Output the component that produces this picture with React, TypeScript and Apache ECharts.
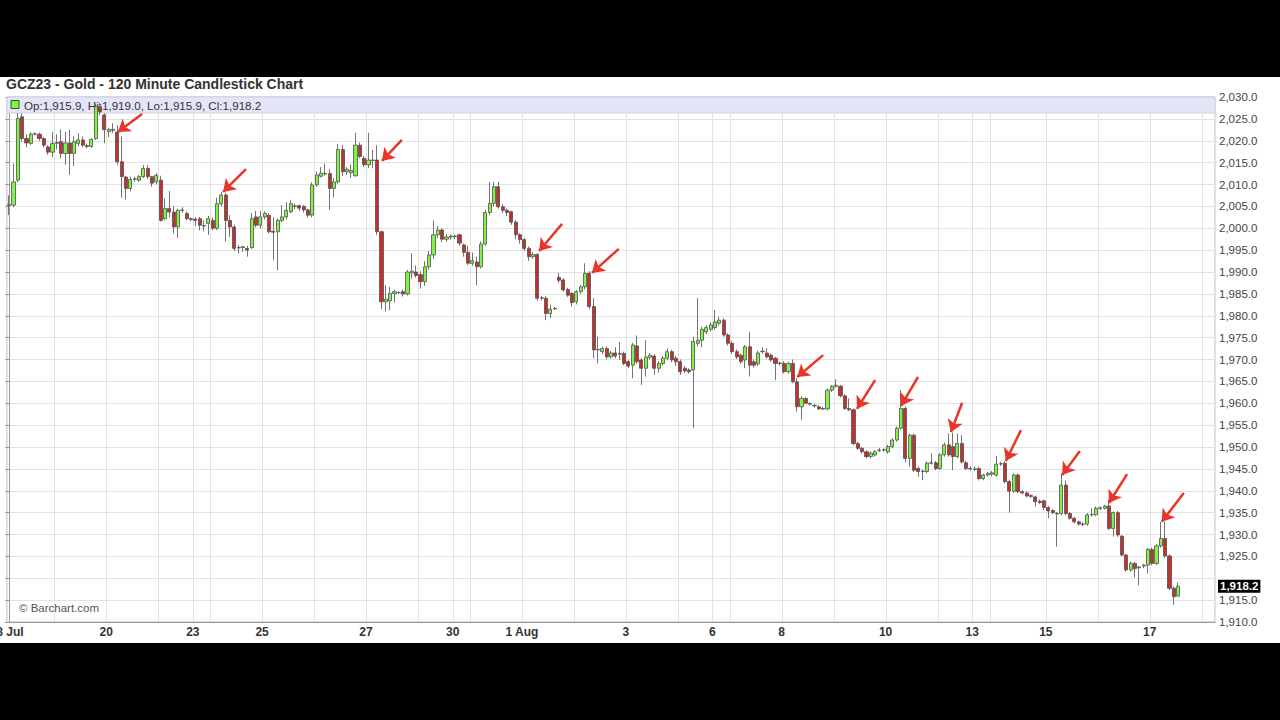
import React, { useEffect, useRef } from 'react';
import * as echarts from 'echarts';

// Number of 120-minute slots on the category axis (271 candles + empty room on the right)
const SLOT_COUNT = 279;

// Candles as [open, high, low, close]
const week18to21Jul = [
  [2005.2, 2007.5, 2003.0, 2005.4], [2005.3, 2014.8, 2004.8, 2010.6], [2011.0, 2026.3, 2010.5, 2025.1],
  [2025.5, 2026.3, 2019.8, 2020.5], [2020.5, 2021.5, 2018.5, 2019.5], [2019.4, 2022.0, 2019.0, 2021.5],
  [2021.5, 2021.9, 2021.2, 2021.6], [2021.5, 2021.9, 2020.0, 2020.5], [2020.5, 2020.8, 2018.5, 2019.0],
  [2018.6, 2019.0, 2016.8, 2017.4], [2017.4, 2022.0, 2016.3, 2019.4], [2019.4, 2021.5, 2018.0, 2019.6],
  [2019.8, 2022.6, 2016.0, 2017.1], [2017.1, 2022.0, 2014.5, 2019.5], [2019.5, 2022.5, 2012.2, 2017.1],
  [2017.1, 2021.0, 2014.2, 2019.8], [2019.4, 2021.7, 2018.8, 2020.2], [2020.2, 2021.0, 2018.5, 2019.0],
  [2018.9, 2019.4, 2018.3, 2018.7], [2018.7, 2020.6, 2018.4, 2020.3], [2020.5, 2028.5, 2020.2, 2027.8],
  [2027.8, 2028.6, 2025.8, 2026.6], [2025.9, 2026.3, 2019.4, 2022.5], [2022.1, 2023.0, 2020.8, 2022.6],
  [2022.6, 2024.0, 2021.8, 2022.4], [2022.0, 2023.5, 2014.5, 2015.2], [2015.2, 2021.0, 2007.0, 2011.8],
  [2011.7, 2012.0, 2006.5, 2009.1], [2009.1, 2011.8, 2008.5, 2011.2], [2011.2, 2011.8, 2010.6, 2011.3],
  [2011.0, 2012.2, 2010.6, 2011.8], [2011.8, 2014.5, 2011.5, 2013.7], [2013.7, 2014.5, 2011.3, 2011.8],
  [2011.8, 2012.0, 2009.5, 2010.3], [2010.6, 2012.6, 2010.0, 2012.1], [2011.0, 2012.0, 2001.5, 2001.8],
  [2002.2, 2006.8, 2001.8, 2004.5], [2004.5, 2008.5, 2002.5, 2003.7], [2003.7, 2005.0, 1998.8, 2000.3],
  [2000.3, 2004.5, 1997.8, 2004.1], [2004.1, 2004.8, 2003.5, 2004.2], [2003.4, 2003.8, 2001.8, 2002.2],
  [2002.2, 2002.5, 2001.6, 2002.0],
];

const week23to28Jul = [
  [2002.1, 2002.5, 2000.5, 2001.8], [2002.2, 2002.6, 1999.5, 2000.7], [2000.6, 2001.8, 1999.3, 2000.5],
  [2001.1, 2002.8, 1998.5, 2002.2], [2001.8, 2002.4, 1999.6, 2000.0], [2000.0, 2007.0, 1999.6, 2005.6],
  [2005.6, 2008.3, 2005.0, 2007.6], [2007.6, 2008.1, 1997.0, 2001.8], [2001.8, 2003.0, 1998.0, 2000.3],
  [2000.3, 2000.8, 1994.8, 1995.4], [1995.6, 1996.2, 1994.2, 1995.5], [1995.6, 1996.0, 1994.6, 1995.8],
  [1995.4, 1996.0, 1993.5, 1995.0], [1995.6, 2003.5, 1995.2, 2002.2], [2002.6, 2004.0, 2000.2, 2000.7],
  [2000.7, 2004.0, 2000.0, 2002.6], [2002.6, 2003.9, 2002.0, 2003.4], [2003.0, 2003.5, 1998.8, 1999.2],
  [1999.3, 2002.5, 1992.7, 1999.1], [1999.2, 2002.2, 1990.4, 2001.8], [2001.8, 2005.3, 2001.4, 2002.6],
  [2002.6, 2006.0, 2002.0, 2004.1], [2003.8, 2006.5, 2003.4, 2005.6], [2005.0, 2005.6, 2004.4, 2005.1],
  [2005.2, 2005.4, 2004.0, 2004.6], [2005.0, 2005.3, 2003.6, 2004.2], [2004.2, 2004.5, 2002.4, 2003.0],
  [2003.0, 2010.5, 2002.5, 2009.9], [2009.9, 2013.0, 2009.5, 2012.2], [2011.9, 2014.0, 2011.6, 2012.6],
  [2012.5, 2014.8, 2012.0, 2012.4], [2012.5, 2013.5, 2004.2, 2009.1], [2009.1, 2011.5, 2007.0, 2010.6],
  [2010.6, 2019.3, 2010.2, 2018.0], [2018.0, 2019.0, 2012.0, 2012.9], [2012.9, 2014.0, 2012.2, 2013.5],
  [2012.7, 2014.6, 2011.5, 2013.2], [2012.0, 2021.8, 2011.8, 2019.0], [2019.0, 2019.6, 2016.0, 2016.4],
  [2016.0, 2016.5, 2014.0, 2014.5], [2014.5, 2021.8, 2013.8, 2015.6], [2015.6, 2017.9, 2013.7, 2015.5],
  [2015.6, 2019.0, 1998.5, 1999.2], [1999.2, 1999.5, 1981.5, 1983.2], [1983.2, 1987.0, 1981.0, 1983.8],
  [1983.4, 1986.6, 1981.3, 1985.1], [1985.1, 1986.0, 1983.0, 1985.5], [1985.3, 1985.6, 1985.0, 1985.3],
  [1985.5, 1986.0, 1984.4, 1985.0], [1985.0, 1990.5, 1984.6, 1990.0], [1989.8, 1994.3, 1988.5, 1990.2],
  [1990.0, 1991.5, 1988.7, 1989.2], [1989.4, 1990.2, 1986.2, 1987.8], [1987.8, 1992.5, 1986.8, 1991.2],
  [1991.2, 1994.8, 1990.5, 1993.9], [1993.9, 2001.8, 1993.0, 1998.5], [1998.5, 2000.5, 1997.8, 1999.6],
  [1999.6, 2000.0, 1996.8, 1997.5], [1997.5, 1998.7, 1997.0, 1998.0], [1998.0, 1998.6, 1997.4, 1998.2],
];

const week30Julto4Aug = [
  [1998.2, 1998.5, 1997.5, 1998.1], [1998.5, 1998.8, 1996.0, 1996.6], [1996.2, 1996.5, 1993.5, 1994.5],
  [1994.5, 1996.0, 1991.6, 1992.0], [1992.0, 1994.4, 1991.4, 1992.6], [1992.3, 1993.5, 1987.0, 1991.2],
  [1991.2, 1997.0, 1990.8, 1996.4], [1996.4, 2004.2, 1996.0, 2003.6], [2003.6, 2010.6, 2003.0, 2005.7],
  [2005.7, 2010.6, 2005.0, 2009.5], [2009.5, 2010.6, 2004.5, 2004.9], [2004.9, 2005.5, 2003.5, 2004.1],
  [2004.1, 2004.5, 2002.8, 2003.6], [2003.8, 2004.0, 2000.8, 2001.4], [2001.4, 2001.9, 1997.5, 1998.5],
  [1998.5, 1998.9, 1996.5, 1997.4], [1997.4, 1997.8, 1994.8, 1995.4], [1995.4, 1995.8, 1992.5, 1993.5],
  [1993.5, 1994.5, 1993.0, 1994.0], [1994.0, 1994.3, 1983.5, 1984.0], [1984.0, 1984.5, 1983.5, 1984.1],
  [1984.0, 1984.5, 1979.0, 1980.5], [1980.5, 1982.5, 1979.5, 1981.5], [1981.6, 1982.0, 1981.3, 1981.7],
  [1988.8, 1989.8, 1987.5, 1988.1], [1988.2, 1988.6, 1985.5, 1985.9], [1986.0, 1986.4, 1984.3, 1984.7],
  [1985.1, 1985.4, 1982.1, 1983.0], [1983.2, 1985.9, 1982.6, 1985.5], [1985.5, 1987.0, 1985.0, 1986.6],
  [1986.6, 1992.0, 1986.0, 1989.7], [1989.7, 1990.2, 1981.5, 1982.1], [1982.1, 1984.0, 1970.3, 1972.2],
  [1972.2, 1975.2, 1969.1, 1972.3], [1971.8, 1973.0, 1971.2, 1972.5], [1972.5, 1973.0, 1970.0, 1970.6],
  [1970.6, 1972.0, 1970.2, 1971.5], [1971.5, 1972.8, 1970.3, 1970.8], [1971.2, 1974.0, 1969.9, 1971.4],
  [1971.4, 1971.8, 1968.7, 1969.1], [1969.5, 1969.9, 1968.0, 1968.5], [1968.7, 1973.8, 1965.7, 1973.3],
  [1973.1, 1975.5, 1969.0, 1969.5], [1969.9, 1970.3, 1964.2, 1968.0], [1968.0, 1974.4, 1966.1, 1970.6],
  [1970.5, 1971.5, 1970.0, 1971.0], [1970.8, 1971.2, 1966.5, 1968.0], [1968.0, 1969.6, 1967.0, 1969.1],
  [1969.1, 1970.8, 1968.6, 1970.3], [1970.3, 1972.5, 1969.8, 1971.8], [1971.8, 1972.2, 1969.4, 1969.9],
  [1970.3, 1970.8, 1968.5, 1969.5], [1969.5, 1970.0, 1966.5, 1967.2], [1968.0, 1968.5, 1966.9, 1967.4],
  [1967.6, 1968.0, 1966.8, 1967.2], [1967.6, 1975.2, 1954.3, 1974.1], [1973.7, 1984.0, 1973.0, 1974.4],
  [1974.4, 1977.5, 1972.8, 1976.9], [1976.3, 1977.8, 1975.8, 1977.3], [1976.9, 1978.5, 1976.4, 1977.9],
];

const week6to11Aug = [
  [1977.3, 1981.3, 1976.8, 1978.6], [1978.3, 1979.8, 1977.8, 1979.0], [1979.0, 1979.4, 1975.2, 1975.6],
  [1975.6, 1976.0, 1973.2, 1973.7], [1973.7, 1974.2, 1971.3, 1971.8], [1971.8, 1972.3, 1970.1, 1970.6],
  [1971.0, 1971.4, 1969.0, 1969.5], [1969.9, 1973.3, 1968.0, 1972.9], [1972.9, 1976.3, 1966.1, 1968.7],
  [1969.5, 1970.0, 1968.2, 1968.7], [1969.0, 1972.0, 1968.5, 1971.5], [1971.8, 1972.8, 1971.3, 1971.9],
  [1971.5, 1972.6, 1970.2, 1970.6], [1971.0, 1971.4, 1969.5, 1969.9], [1970.3, 1970.6, 1965.3, 1969.1],
  [1969.1, 1969.5, 1968.6, 1969.2], [1969.1, 1969.6, 1966.8, 1967.2], [1967.2, 1969.5, 1966.8, 1969.1],
  [1969.1, 1970.0, 1964.6, 1964.9], [1964.9, 1965.7, 1958.1, 1959.2], [1959.2, 1961.6, 1956.2, 1961.1],
  [1961.1, 1961.4, 1959.8, 1960.0], [1959.9, 1960.2, 1959.5, 1959.8], [1959.5, 1959.9, 1959.0, 1959.4],
  [1959.2, 1959.5, 1958.5, 1958.7], [1958.8, 1959.2, 1958.4, 1958.7], [1958.7, 1963.4, 1958.4, 1963.0],
  [1963.0, 1964.2, 1962.6, 1963.9], [1963.9, 1965.5, 1963.5, 1964.1], [1963.9, 1964.2, 1961.3, 1961.7],
  [1961.7, 1962.0, 1958.5, 1958.8], [1958.8, 1961.1, 1958.2, 1958.5], [1958.5, 1958.8, 1950.4, 1950.8],
  [1950.8, 1951.2, 1949.3, 1949.7], [1949.7, 1950.0, 1948.5, 1948.9], [1948.9, 1949.2, 1947.4, 1947.8],
  [1947.8, 1949.0, 1947.4, 1948.6], [1948.2, 1949.3, 1947.8, 1948.9], [1949.2, 1949.8, 1948.8, 1949.3],
  [1949.3, 1949.7, 1948.9, 1949.4], [1948.9, 1950.5, 1948.5, 1950.1], [1950.1, 1952.0, 1949.7, 1951.6],
  [1951.6, 1954.7, 1951.2, 1954.3], [1954.3, 1963.0, 1954.0, 1958.8], [1958.8, 1959.2, 1946.5, 1947.4],
  [1947.4, 1953.1, 1945.5, 1952.7], [1952.7, 1953.1, 1944.3, 1944.7], [1945.1, 1945.5, 1943.2, 1944.4],
  [1944.4, 1944.8, 1942.4, 1944.5], [1944.4, 1946.7, 1944.0, 1946.3], [1946.3, 1948.6, 1946.0, 1946.4],
  [1946.4, 1946.8, 1944.7, 1945.1], [1945.1, 1948.6, 1944.8, 1948.2], [1948.2, 1951.0, 1947.8, 1950.5],
  [1950.5, 1953.1, 1947.8, 1948.2], [1950.1, 1953.3, 1944.7, 1947.8], [1947.8, 1953.1, 1947.4, 1950.8],
  [1950.8, 1952.7, 1946.2, 1946.6], [1946.4, 1946.8, 1944.7, 1945.1], [1945.1, 1945.6, 1944.6, 1945.0],
];

const week13to17Aug = [
  [1945.0, 1945.5, 1944.5, 1944.9], [1945.1, 1945.5, 1942.4, 1942.8], [1942.8, 1943.9, 1942.4, 1943.6],
  [1943.6, 1944.3, 1943.2, 1944.0], [1943.8, 1944.5, 1943.3, 1944.1], [1943.6, 1948.0, 1943.2, 1946.1],
  [1946.1, 1946.6, 1945.7, 1946.2], [1946.3, 1946.8, 1941.7, 1942.1], [1942.1, 1942.5, 1935.0, 1939.9],
  [1939.9, 1944.0, 1939.5, 1943.6], [1943.6, 1944.0, 1939.4, 1939.8], [1939.8, 1940.1, 1939.2, 1939.5],
  [1939.5, 1939.8, 1938.5, 1938.8], [1938.9, 1939.2, 1938.4, 1938.7], [1938.6, 1938.9, 1936.4, 1937.5],
  [1937.6, 1938.0, 1937.0, 1937.3], [1937.7, 1938.0, 1935.6, 1936.2], [1936.2, 1936.5, 1933.7, 1935.4],
  [1935.5, 1935.8, 1934.7, 1935.0], [1934.8, 1935.2, 1927.2, 1934.7], [1934.8, 1944.0, 1934.4, 1941.3],
  [1941.3, 1942.3, 1934.4, 1934.8], [1934.8, 1935.2, 1933.4, 1933.7], [1933.7, 1934.0, 1932.5, 1932.9],
  [1932.9, 1933.2, 1932.0, 1932.4], [1932.4, 1932.8, 1931.9, 1932.3], [1932.4, 1934.9, 1932.0, 1934.5],
  [1934.5, 1936.0, 1934.1, 1934.6], [1934.5, 1936.4, 1934.2, 1936.0], [1936.0, 1936.4, 1935.6, 1936.1],
  [1936.0, 1936.8, 1935.7, 1936.5], [1936.5, 1938.0, 1931.0, 1931.4], [1931.4, 1935.3, 1929.5, 1935.0],
  [1935.0, 1935.4, 1929.5, 1929.9], [1929.6, 1929.9, 1925.0, 1925.3], [1925.3, 1925.6, 1921.5, 1921.9],
  [1921.9, 1923.8, 1921.5, 1923.4], [1923.4, 1923.7, 1920.2, 1922.2], [1922.4, 1922.8, 1918.4, 1922.6],
  [1922.8, 1923.3, 1922.3, 1923.0], [1923.0, 1926.9, 1921.1, 1926.6], [1926.6, 1927.0, 1923.0, 1923.4],
  [1923.4, 1927.8, 1923.0, 1927.4], [1927.4, 1932.9, 1927.0, 1929.1], [1929.1, 1932.9, 1924.7, 1925.1],
  [1925.1, 1925.5, 1917.3, 1917.7], [1917.7, 1918.1, 1913.9, 1915.8], [1915.9, 1919.0, 1915.9, 1918.2],
];

// First slot of each trading date, and its label
const dayStarts = [0, 11, 23, 35, 43, 47, 59, 71, 83, 95, 103, 107, 119, 131, 143, 155, 163, 167, 179, 191, 203, 215, 223, 227, 240, 252, 264, 276];
const dayNames = ['18 Jul', '19', '20', '21', '23', '24', '25', '26', '27', '28', '30', '31', '1 Aug', '2', '3', '4', '6', '7', '8', '9', '10', '11', '13', '14', '15', '16', '17', '18'];
const labeledDays = ['18 Jul', '20', '23', '25', '27', '30', '1 Aug', '3', '6', '8', '10', '13', '15', '17'];

// Price axis
const priceMin = 1910;
const priceMax = 2030;
const priceStep = 5;

// Hand-drawn red arrows: [tail slot, tail price, tip slot, tip price]
const arrows = [
  [30.7, 2026.1, 25.1, 2022.0],
  [54.7, 2013.5, 49.4, 2008.3],
  [90.7, 2020.2, 86.1, 2015.4],
  [127.7, 2001.0, 122.4, 1994.8],
  [140.8, 1995.3, 134.6, 1989.8],
  [188.0, 1971.0, 182.0, 1966.0],
  [200.0, 1965.3, 195.8, 1958.7],
  [209.9, 1966.0, 206.0, 1959.4],
  [220.1, 1960.1, 217.5, 1953.4],
  [233.7, 1953.9, 230.2, 1946.8],
  [247.3, 1949.1, 243.2, 1943.6],
  [258.2, 1943.8, 254.0, 1937.2],
  [271.3, 1939.5, 266.2, 1932.9],
];

const lastQuote = { open: 1915.9, high: 1919.0, low: 1915.9, close: 1918.2 };

const FONT = '"Liberation Sans", Arial, sans-serif';

const fmt = (v: number) =>
  v.toLocaleString('en-US', { minimumFractionDigits: 1, maximumFractionDigits: 1 });

export default function App() {
  const ref = useRef<HTMLDivElement>(null);

  useEffect(() => {
    document.body.style.margin = '0';
    if (!ref.current) return;
    const chart = echarts.init(ref.current, undefined, { renderer: 'svg' });

    const candles = [...week18to21Jul, ...week23to28Jul, ...week30Julto4Aug, ...week6to11Aug, ...week13to17Aug];
    // ECharts order: [open, close, lowest, highest]
    const seriesData = candles.map(([o, h, l, c]) => [o, c, l, h]);
    const categories = Array.from({ length: SLOT_COUNT }, (_, i) => String(i));
    const startSet = new Set(dayStarts);
    const labelSet = new Set(dayStarts.filter((_, k) => labeledDays.includes(dayNames[k])));
    const nameAt = (i: number) => {
      const k = dayStarts.indexOf(i);
      return k >= 0 ? dayNames[k] : '';
    };

    chart.setOption({
      animation: false,
      backgroundColor: '#ffffff',
      grid: {
        left: 7,
        right: 65,
        top: 20,
        bottom: 21,
        outerBoundsMode: 'none',
        containLabel: false,
        show: true,
        borderColor: '#b8b8b8',
        borderWidth: 1,
        backgroundColor: 'transparent',
      },
      xAxis: [
        {
          type: 'category',
          data: categories,
          boundaryGap: true,
          axisLine: { lineStyle: { color: '#9a9a9a' } },
          axisTick: {
            interval: (i: number) => labelSet.has(i),
            length: 4,
            lineStyle: { color: '#9a9a9a' },
          },
          axisLabel: {
            interval: (i: number) => labelSet.has(i),
            formatter: (_v: string, i: number) => nameAt(i),
            fontFamily: FONT,
            fontSize: 12,
            fontWeight: 'bold',
            color: '#333',
            margin: 4,
            padding: [0, 5, 0, 0],
          },
          splitLine: {
            show: true,
            interval: (i: number) => startSet.has(i),
            lineStyle: { color: '#e2e2e2', width: 1 },
          },
        },
        {
          type: 'value',
          min: -0.5,
          max: SLOT_COUNT - 0.5,
          show: false,
        },
      ],
      yAxis: {
        type: 'value',
        position: 'right',
        min: priceMin,
        max: priceMax,
        interval: priceStep,
        axisLine: { show: true, lineStyle: { color: '#9a9a9a' } },
        axisTick: { show: true, inside: true, length: 4, lineStyle: { color: '#9a9a9a' } },
        axisLabel: {
          formatter: (v: number) => (v === 1920 ? '' : fmt(v)),
          fontFamily: FONT,
          fontSize: 11.5,
          color: '#444',
          margin: 4,
        },
        splitLine: { show: true, lineStyle: { color: '#e2e2e2', width: 1 } },
      },
      graphic: [
        {
          type: 'text',
          left: 6,
          top: 0,
          z: 5,
          style: {
            text: 'GCZ23 - Gold - 120 Minute Candlestick Chart',
            font: `bold 14px ${FONT}`,
            fill: '#333',
          },
        },
        {
          type: 'rect',
          shape: { x: 7, y: 20, width: 1208, height: 16 },
          z: 1,
          style: { fill: '#e5e5f8', stroke: '#d0d0e6', lineWidth: 1 },
        },
        {
          type: 'rect',
          shape: { x: 11, y: 23.5, width: 8, height: 8 },
          z: 1,
          style: { fill: '#7ef542', stroke: '#335522', lineWidth: 1 },
        },
        {
          type: 'text',
          x: 24,
          y: 28,
          z: 1,
          style: {
            text: `Op:${fmt(lastQuote.open)}, Hi:${fmt(lastQuote.high)}, Lo:${fmt(lastQuote.low)}, Cl:${fmt(lastQuote.close)}`,
            font: `11.6px ${FONT}`,
            fill: '#333',
            verticalAlign: 'middle',
          },
        },
        {
          type: 'text',
          x: 19,
          y: 531,
          z: 5,
          style: {
            text: '© Barchart.com',
            font: `11.5px ${FONT}`,
            fill: '#555',
            verticalAlign: 'middle',
          },
        },
      ],
      series: [
        {
          type: 'candlestick',
          data: seriesData,
          barWidth: 3.6,
          z: 3,
          itemStyle: {
            color: '#7ef542',
            color0: '#c4302b',
            borderColor: '#505050',
            borderColor0: '#505050',
            borderWidth: 0.8,
          },
          markLine: {
            silent: true,
            symbol: ['none', 'none'],
            lineStyle: { color: 'rgba(0,0,0,0)', width: 1, type: 'solid' },
            data: [{ yAxis: lastQuote.close }],
            label: {
              show: true,
              position: 'end',
              distance: 3,
              formatter: fmt(lastQuote.close),
              backgroundColor: '#000',
              color: '#fff',
              fontFamily: FONT,
              fontSize: 11.5,
              fontWeight: 'bold',
              padding: [1, 2, 0, 2],
              opacity: 1,
            },
          },
        },
        {
          type: 'lines',
          coordinateSystem: 'cartesian2d',
          xAxisIndex: 1,
          yAxisIndex: 0,
          z: 5,
          symbol: ['none', 'arrow'],
          symbolSize: 12,
          lineStyle: { color: '#e8352a', width: 2.5, opacity: 1, curveness: 0 },
          data: arrows.map(([x1, y1, x2, y2]) => ({ coords: [[x1, y1], [x2, y2]] })),
        },
      ],
    });

    return () => chart.dispose();
  }, []);

  return (
    <div style={{ width: 1280, height: 720, background: '#000', position: 'relative', overflow: 'hidden' }}>
      <div ref={ref} style={{ position: 'absolute', left: 0, top: 77, width: 1280, height: 566 }} />
    </div>
  );
}
